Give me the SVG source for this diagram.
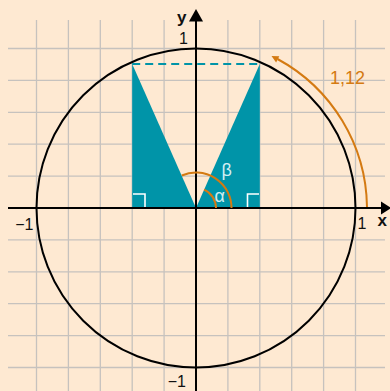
<svg xmlns="http://www.w3.org/2000/svg" width="390" height="391" viewBox="0 0 390 391">
<style>
.grid{stroke:#c6c2be;stroke-width:1.3;fill:none}
.axis{stroke:#000;stroke-width:2;fill:none}
.lbl{font-family:"Liberation Sans",Arial,sans-serif;font-size:16px;fill:#111}
.ax{font-family:"Liberation Sans",Arial,sans-serif;font-size:17px;font-weight:bold;fill:#111}
.teal{fill:#0094a8}
.orange{stroke:#d47a12;stroke-width:2;fill:none}
.greek{font-family:"Liberation Sans",Arial,sans-serif;font-size:18px;fill:#d2eef2}
.right{stroke:#fff;stroke-width:1.6;fill:none}
</style>
<rect width="390" height="391" fill="#fee9d2"/>
<g id="grid" class="grid">
<path d="M36.5,20V391M68.4,20V391M100.3,20V391M132.2,20V391M164.1,20V391M227.9,20V391M259.8,20V391M291.7,20V391M323.6,20V391M355.5,20V391"/>
<path d="M8,48.5H385M8,80.4H385M8,112.3H385M8,144.2H385M8,176.1H385M8,239.9H385M8,271.8H385M8,303.7H385M8,335.6H385M8,367.5H385"/>
</g>
<g id="triangles">
<polygon class="teal" points="132.2,64 132.2,208 196,208"/>
<polygon class="teal" points="259.8,64 259.8,208 196,208"/>
<line x1="132.2" y1="64" x2="259.8" y2="64" stroke="#0094a8" stroke-width="2" stroke-dasharray="8 5"/>
<path class="right" d="M133,194H145V208M259,194H247.5V208"/>
</g>
<g id="circle">
<circle cx="196" cy="208" r="159.5" fill="none" stroke="#000" stroke-width="2"/>
</g>
<g id="axes">
<line class="axis" x1="8" y1="208" x2="382" y2="208"/>
<polygon points="381,201.5 391,208 381,214.5" fill="#000"/>
<line class="axis" x1="196" y1="391" x2="196" y2="20"/>
<polygon points="189,21.5 196,9 203,21.5" fill="#000"/>
<text class="ax" x="177" y="23">y</text>
<text class="ax" x="377.5" y="226">x</text>
<text class="lbl" x="179" y="43.5">1</text>
<text class="lbl" x="357.5" y="229">1</text>
<text class="lbl" x="33.5" y="229.5" text-anchor="end">−1</text>
<text class="lbl" x="186" y="386.5" text-anchor="end">−1</text>
</g>
<g id="angles">
<path class="orange" d="M216,208A20,20 0 0 0 204.1,189.7"/>
<path class="orange" d="M231.5,208A35.5,35.5 0 0 0 181.8,175.5"/>
<text class="greek" x="214.5" y="202">α</text>
<text class="greek" x="221.5" y="176">β</text>
</g>
<g id="arc-length">
<path class="orange" d="M367,207A171,171 0 0 0 277.5,59"/>
<polygon points="271.5,56 279.3,56.2 276.1,62.4" fill="#d47a12"/>
<text x="330" y="83.5" font-family="Liberation Sans,Arial,sans-serif" font-size="18" fill="#d47a12">1,12</text>
</g>
</svg>
